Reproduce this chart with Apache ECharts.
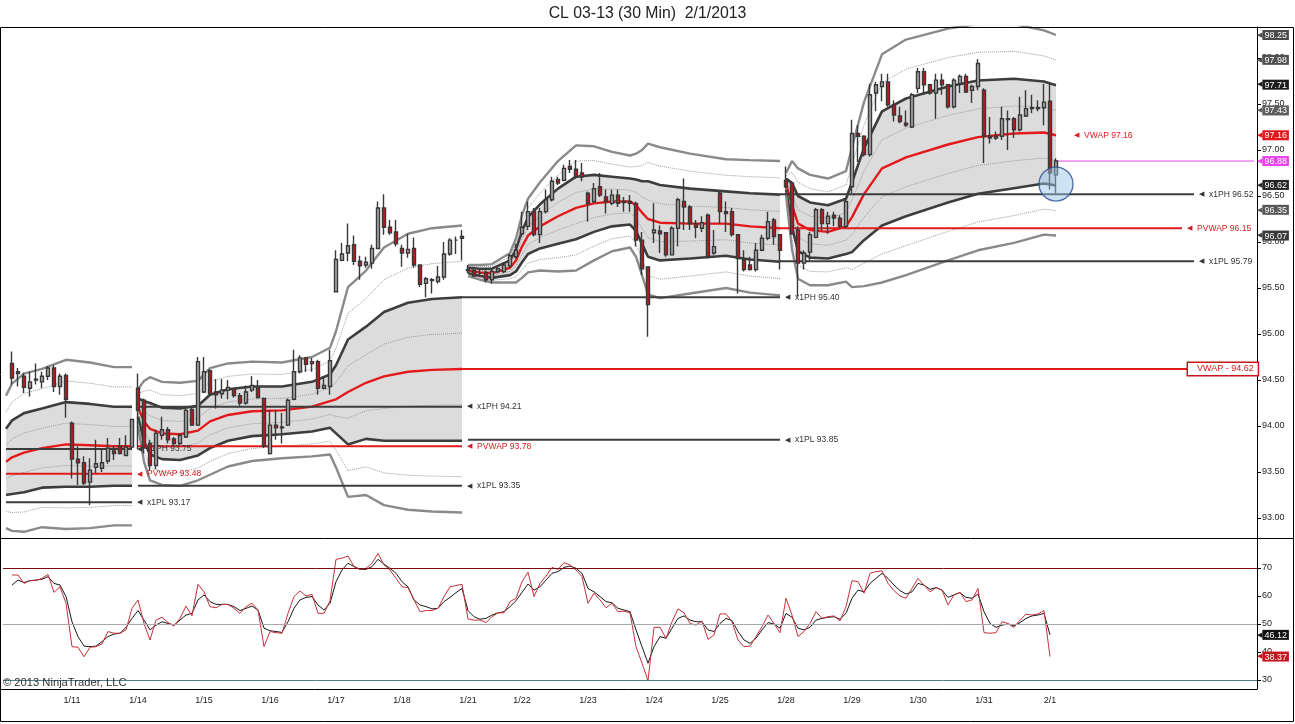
<!DOCTYPE html>
<html><head><meta charset="utf-8">
<script src="https://cdn.jsdelivr.net/npm/echarts@6/dist/echarts.min.js"></script>
<style>html,body{margin:0;padding:0;background:#fff;}#c{width:1295px;height:724px;}</style>
</head><body><div id="c"></div>
<script>
// ---------------- DATA ----------------
const days = ['1/10','1/11','1/14','1/15','1/16','1/17','1/18','1/21','1/22','1/23','1/24','1/25','1/28','1/29','1/30','1/31','2/1'];
const barsPerDay = [10,11,11,11,11,11,11,9,11,11,11,11,11,11,11,11,2];

const opens = [
 94.68,94.57,94.54,94.41,94.50,94.48,94.54,94.63,94.43,94.55,
 94.03,93.64,93.60,93.39,93.55,93.54,93.62,93.73,93.78,93.68,93.77,
 94.41,94.28,93.81,93.57,93.90,93.96,93.86,93.81,93.88,94.18,94.01,
 94.37,94.60,94.37,94.35,94.39,94.40,94.33,94.25,94.39,94.41,94.30,
 93.70,94.01,93.99,94.01,94.29,94.59,94.74,94.68,94.70,94.41,94.43,
 95.46,95.80,95.88,95.97,95.79,95.75,95.77,95.93,96.37,96.16,96.11,
 95.93,95.88,95.93,95.75,95.55,95.59,95.57,95.62,95.87,96.02,96.04,
 95.70,95.69,95.66,95.67,95.59,95.68,95.68,95.74,95.84,
 96.09,96.17,96.33,96.08,96.33,96.46,96.68,96.67,96.82,96.79,96.75,
 96.53,96.44,96.60,96.49,96.42,96.51,96.44,96.44,96.42,96.02,95.73,
 96.10,96.12,96.10,95.86,96.15,96.44,96.38,96.20,96.15,96.29,95.88,
 96.53,96.33,96.33,96.08,95.81,95.75,95.70,95.91,96.04,96.24,96.08,
 96.67,96.64,96.13,95.77,95.89,96.05,96.35,96.20,96.29,96.26,96.17,
 96.60,97.18,97.15,96.95,97.62,97.69,97.74,97.49,97.37,97.29,97.25,
 97.67,97.85,97.71,97.62,97.76,97.71,97.47,97.72,97.80,97.65,97.69,
 97.65,97.15,97.13,97.15,97.34,97.34,97.22,97.37,97.46,97.45,97.46,
 97.53,96.73];
const highs = [
 94.81,94.63,94.58,94.59,94.68,94.59,94.65,94.66,94.57,94.57,
 94.05,93.78,93.67,93.65,93.85,93.76,93.87,93.78,93.87,93.90,94.08,
 94.57,94.30,93.85,93.96,94.10,93.99,93.88,93.92,94.19,94.21,94.75,
 94.75,94.62,94.51,94.51,94.50,94.41,94.36,94.44,94.54,94.50,94.31,
 94.17,94.17,94.14,94.30,94.83,94.77,94.75,94.74,94.72,94.54,94.83,
 95.91,95.99,96.20,96.07,95.85,95.84,95.97,96.44,96.52,96.24,96.24,
 95.97,96.09,96.05,95.75,95.62,95.61,95.74,96.00,96.04,96.06,96.13,
 95.75,95.72,95.70,95.69,95.70,95.74,95.78,95.87,95.98,
 96.33,96.44,96.37,96.37,96.57,96.71,96.71,96.84,96.89,96.89,96.86,
 96.55,96.64,96.75,96.57,96.57,96.57,96.49,96.51,96.44,96.11,95.73,
 96.42,96.18,96.11,96.17,96.48,96.69,96.40,96.24,96.28,96.31,96.13,
 96.55,96.44,96.37,96.08,95.91,95.84,95.99,96.08,96.33,96.26,96.08,
 96.82,96.66,96.17,95.91,96.11,96.37,96.37,96.33,96.33,96.29,96.47,
 97.33,97.27,97.16,97.72,97.74,97.83,97.83,97.54,97.47,97.43,97.62,
 97.89,97.89,97.72,97.83,97.83,97.71,97.78,97.82,97.83,97.71,97.99,
 97.67,97.36,97.20,97.47,97.43,97.36,97.58,97.65,97.60,97.54,97.72,
 97.72,96.91];
const lows = [
 94.45,94.43,94.36,94.32,94.45,94.41,94.50,94.37,94.34,94.09,
 93.43,93.36,93.36,93.14,93.49,93.50,93.59,93.63,93.69,93.67,93.76,
 93.75,93.70,93.52,93.53,93.85,93.81,93.78,93.79,93.87,94.00,94.00,
 94.36,94.34,94.19,94.30,94.29,94.31,94.22,94.23,94.37,94.30,93.76,
 93.69,93.85,93.81,94.00,94.28,94.57,94.59,94.59,94.34,94.40,94.34,
 95.45,95.79,95.79,95.75,95.59,95.72,95.71,95.93,96.08,96.08,95.95,
 95.73,95.83,95.72,95.51,95.40,95.44,95.55,95.59,95.85,95.87,95.80,
 95.66,95.62,95.63,95.56,95.55,95.66,95.66,95.72,95.82,
 96.06,96.13,96.06,95.99,96.31,96.44,96.62,96.66,96.75,96.69,96.66,
 96.22,96.42,96.49,96.31,96.40,96.38,96.33,96.33,95.95,95.64,94.97,
 95.99,95.88,95.84,95.86,95.95,96.13,96.13,96.04,96.11,95.82,95.86,
 96.20,96.11,96.06,95.44,95.68,95.69,95.68,95.90,96.02,95.97,95.70,
 96.58,96.08,95.41,95.70,95.80,96.04,96.13,96.09,96.17,96.15,96.15,
 96.53,96.87,96.93,96.93,97.42,97.53,97.47,97.31,97.29,97.25,97.24,
 97.62,97.60,97.60,97.34,97.60,97.45,97.45,97.62,97.62,97.51,97.65,
 96.86,97.07,97.11,97.11,97.00,97.13,97.20,97.36,97.40,97.42,97.27,
 96.57,96.53];
const closes = [
 94.52,94.59,94.42,94.48,94.51,94.54,94.63,94.43,94.54,94.29,
 93.64,93.60,93.38,93.52,93.59,93.60,93.76,93.70,93.70,93.77,94.07,
 94.17,93.76,93.57,93.92,93.96,93.85,93.81,93.90,94.17,94.01,94.70,
 94.59,94.35,94.34,94.39,94.42,94.33,94.25,94.37,94.44,94.31,93.78,
 94.01,93.98,93.98,94.28,94.59,94.74,94.67,94.70,94.41,94.44,94.71,
 95.81,95.87,95.96,95.79,95.74,95.78,95.93,96.37,96.16,96.10,95.98,
 95.88,95.92,95.75,95.54,95.60,95.58,95.62,95.87,96.02,96.02,96.06,
 95.69,95.63,95.66,95.59,95.68,95.71,95.75,95.85,95.91,
 96.16,96.33,96.08,96.33,96.46,96.66,96.64,96.80,96.79,96.71,96.71,
 96.42,96.58,96.51,96.44,96.51,96.42,96.43,96.42,96.02,95.71,95.32,
 96.13,96.09,95.86,96.15,96.46,96.38,96.20,96.16,96.21,95.84,95.95,
 96.33,96.31,96.08,95.82,95.70,95.70,95.91,96.04,96.22,96.06,95.91,
 96.60,96.09,95.77,95.88,96.08,96.35,96.20,96.28,96.26,96.17,96.44,
 97.18,97.15,96.95,97.60,97.71,97.74,97.49,97.38,97.31,97.27,97.60,
 97.85,97.71,97.62,97.76,97.71,97.47,97.76,97.80,97.63,97.69,97.94,
 97.15,97.13,97.15,97.34,97.33,97.22,97.38,97.45,97.45,97.46,97.52,
 96.75,96.88];

// weekly VWAP (read) and its standard deviation (read), sampled at bar numbers
const bandBarsA = [-1,0,2,5,9,13,17,20];
const bandVwapA = [93.61,93.66,93.71,93.76,93.80,93.79,93.78,93.78];
const bandSdA   = [0.36,0.40,0.43,0.43,0.46,0.45,0.43,0.43];
const bandBarsB = [21,22,23,25,28,31,33,36,40,45,50,53,54,56,59,62,66,70,75];
const bandVwapB = [94.20,94.05,93.97,93.92,93.91,93.95,94.05,94.12,94.16,94.17,94.21,94.27,94.29,94.37,94.47,94.54,94.59,94.61,94.62];
const bandSdB   = [0.10,0.22,0.28,0.28,0.28,0.27,0.29,0.28,0.27,0.26,0.27,0.29,0.37,0.57,0.61,0.70,0.75,0.77,0.78];
const bandBarsC = [76,78,80,83,84,85,86,88,91,94,97,100,103,104,105,106,108,113,119,123,128];
const bandVwapC = [95.69,95.67,95.66,95.72,95.80,95.95,96.07,96.17,96.28,96.37,96.42,96.44,96.44,96.40,96.32,96.25,96.21,96.20,96.20,96.17,96.15];
const bandSdC   = [0.03,0.04,0.05,0.08,0.12,0.17,0.20,0.24,0.30,0.34,0.31,0.27,0.25,0.28,0.34,0.41,0.41,0.38,0.35,0.36,0.365];
const bandBarsD = [129,130,131,133,136,139,140,142,145,149,156,161,167,172,174];
const bandVwapD = [96.63,96.40,96.20,96.13,96.11,96.17,96.27,96.52,96.80,96.92,97.06,97.14,97.18,97.19,97.16];
const bandSdD   = [0.06,0.24,0.30,0.30,0.29,0.30,0.38,0.50,0.62,0.64,0.63,0.615,0.595,0.555,0.545];
const bandLevels = [2,1.5,1,0.5,0,-0.5,-1,-1.5,-2];

// prior-week levels
const levelNames  = ['x1PH','PVWAP','x1PL','x1PH','PVWAP','x1PL','x1PH','x1PL','x1PH','PVWAP','x1PL'];
const levelValues = [93.75,93.48,93.17,94.21,93.78,93.35,95.40,93.85,96.52,96.15,95.79];
const monthVwap = 94.62;
const lastPrice = 96.88;
const circleMark = [174, 96.63];

// oscillator (lower panel)
const oscFast = [
 67.5,67.5,64.5,65.5,65.5,66.3,67.7,61.3,63.3,57.4,
 41.9,41.7,38.3,41.7,41.9,42.9,47.3,46.7,46.7,47.9,
 55.6,58.6,50.2,44.3,51.4,52.4,50.5,49.3,52.0,56.4,
 52.9,64.2,61.5,56.2,55.8,57.0,57.0,55.6,53.8,56.2,
 57.4,55.0,41.9,47.3,46.9,46.7,53.8,59.8,61.8,60.0,
 60.6,53.8,53.8,58.3,73.1,73.5,74.3,70.5,69.5,69.9,
 71.7,75.2,71.1,69.3,66.3,63.3,63.0,58.6,54.4,54.8,
 54.8,55.6,59.8,63.3,63.7,64.2,51.8,51.4,51.4,50.5,
 52.6,54.0,54.0,58.0,59.2,65.1,68.5,59.8,64.5,67.1,
 70.2,69.5,71.9,71.1,69.3,66.9,57.4,61.0,58.6,55.8,
 57.4,54.4,54.6,54.0,41.9,36.0,29.8,48.8,48.8,44.9,
 50.8,55.4,54.0,50.2,49.6,51.1,44.5,46.1,53.6,53.6,
 50.8,44.3,41.9,42.1,45.5,49.0,53.2,50.2,46.9,59.2,
 53.2,45.5,47.3,50.2,54.4,52.0,52.6,52.9,51.1,56.2,
 65.5,65.1,61.0,68.1,68.7,69.0,64.5,61.9,60.0,59.2,
 62.7,66.3,63.9,61.5,63.0,62.1,56.8,60.4,61.3,58.0,
 58.6,62.7,46.9,46.7,46.9,50.8,50.2,48.8,51.4,53.5,
 53.2,53.6,54.8,38.37];
const oscSlow = [
 63.9,65.7,64.8,65.5,65.7,66.0,66.9,64.5,63.9,59.8,
 50.8,45.5,42.1,41.9,42.1,43.7,45.5,46.4,46.7,48.8,
 52.0,54.8,51.4,47.9,49.6,50.8,50.2,49.6,51.4,53.2,
 53.8,58.6,60.4,58.0,57.0,57.0,57.0,56.2,54.8,55.6,
 56.4,55.0,48.5,47.6,47.3,47.0,50.8,55.6,58.6,59.5,
 59.8,56.8,55.0,57.4,65.1,69.3,71.7,70.5,69.5,69.5,
 70.5,73.1,71.4,69.9,68.1,65.1,63.3,58.6,56.8,56.2,
 55.4,55.6,58.0,59.5,61.2,62.7,54.8,52.6,51.7,52.0,
 53.2,54.0,54.4,56.2,58.3,61.3,64.3,62.1,63.3,65.7,
 68.1,68.7,70.2,70.7,69.9,68.1,62.7,61.5,59.8,58.0,
 57.6,55.6,55.0,54.4,47.9,41.9,36.0,41.9,45.5,44.9,
 48.5,52.0,52.9,51.4,50.8,50.8,47.9,47.3,50.2,52.0,
 51.2,47.3,44.3,43.1,44.9,47.9,50.5,50.0,48.5,53.8,
 52.4,48.5,47.9,48.8,51.4,52.0,52.4,52.6,51.7,53.8,
 59.2,62.1,61.5,64.5,66.3,68.1,66.3,63.9,61.9,60.7,
 61.5,64.5,63.9,62.4,63.0,62.1,59.5,60.4,61.2,59.5,
 59.2,60.7,54.4,50.2,48.8,49.6,50.0,49.3,50.5,52.0,
 52.9,53.2,53.8,46.12];
const oscLevels = [70,50,30];

const priceTicks = [93,93.5,94,94.5,95,95.5,96,96.5,97,97.5,98];
const oscTicks = [30,40,50,60,70];
const markerValues = [98.25,97.98,97.71,97.43,97.16,96.88,96.62,96.35,96.07];
const oscMarkerValues = [46.12,38.37];

// ---------------- STYLE / LAYOUT ----------------
const FONT = 'Liberation Sans, Arial, sans-serif';
const markerColors = ['#4a4a4a','#505050','#1c1c1c','#5e5e5e','#e0181c','#e843e8','#262626','#575757','#3a3a3a'];
const oscMarkerColors = ['#111111','#c4161c'];
const levelSpan = [[0,21],[0,21],[0,21],[22,76],[22,76],[22,76],[76,129],[77,129],[129,198],[129,196],[129,198]];
const monthSpan = [76,197];
const lastSpan = [175,208];
const SLOTS = 209;
const RED = '#e3191c', DARK = '#3d3d3d';
const LBL = 8.5;

// categories (slot 0 is an empty lead slot)
const cats = ['lead'];
const dayStart = [];
days.forEach((d, di) => {
  dayStart.push(cats.length);
  for (let i = 0; i < barsPerDay[di]; i++) cats.push(d + ' #' + (i + 1));
});
while (cats.length < SLOTS) cats.push('pad' + cats.length);
const labelSlots = new Set(dayStart.slice(1));
const slotOf = k => k + 1;

const candles = opens.map((o, k) => [slotOf(k), o, closes[k], lows[k], highs[k]]);

function arrowLabel(text, color, dist) {
  return {show: true, distance: dist, formatter: '{a|◀}  ' + text, color: color,
    fontSize: LBL, fontFamily: FONT,
    rich: {a: {color: color, fontSize: 7, fontFamily: 'DejaVu Sans'}}};
}

const series = [];
series.push({
  type: 'candlestick', xAxisIndex: 0, yAxisIndex: 0, z: 5, silent: true,
  data: candles, encode: {x: 0, y: [1, 2, 3, 4]}, barWidth: 4,
  itemStyle: {color: '#a9a9a9', color0: '#c8161e', borderColor: '#383838', borderColor0: '#383838', borderWidth: 1.4}
});

const segs = [
  [bandBarsA, bandVwapA, bandSdA],
  [bandBarsB, bandVwapB, bandSdB],
  [bandBarsC, bandVwapC, bandSdC],
  [bandBarsD, bandVwapD, bandSdD]
];
function bandStyle(m) {
  const a = Math.abs(m);
  if (m === 0) return {color: RED, width: 2.4, type: 'solid'};
  if (a === 2) return {color: '#8a8a8a', width: 2.4, type: 'solid'};
  if (a === 1) return {color: DARK, width: 2.6, type: 'solid'};
  return {color: '#9c9c9c', width: 1, type: 'dotted'};
}
segs.forEach(([bars, vw, sd], si) => {
  const up = bars.map((b, i) => [slotOf(b), vw[i] + sd[i]]);
  const lo = bars.map((b, i) => [slotOf(b), vw[i] - sd[i]]);
  series.push({
    type: 'custom', xAxisIndex: 0, yAxisIndex: 0, z: 1, silent: true, data: [[1, 95]],
    renderItem: (params, api) => {
      const pts = up.map(p => api.coord(p)).concat(lo.slice().reverse().map(p => api.coord(p)));
      return {type: 'polygon', shape: {points: pts}, style: {fill: '#dcdcdc'}};
    }
  });
  bandLevels.forEach(m => {
    const s = {
      type: 'line', xAxisIndex: 0, yAxisIndex: 0, z: 2, silent: true, symbol: 'none',
      data: bars.map((b, i) => [slotOf(b), vw[i] + m * sd[i]]),
      lineStyle: bandStyle(m)
    };
    if (m === 0 && si === 3) {
      s.endLabel = arrowLabel('VWAP ' + vw[vw.length - 1].toFixed(2), RED, 18);
    }
    series.push(s);
  });
});

levelNames.forEach((nm, i) => {
  const red = nm === 'PVWAP';
  series.push({
    type: 'line', xAxisIndex: 0, yAxisIndex: 0, z: 3, silent: true, symbol: 'none',
    data: [[levelSpan[i][0], levelValues[i]], [levelSpan[i][1], levelValues[i]]],
    lineStyle: {color: red ? RED : DARK, width: 2},
    endLabel: arrowLabel(nm + ' ' + levelValues[i].toFixed(2), red ? '#d7191c' : '#333', 5)
  });
});
series.push({
  type: 'line', xAxisIndex: 0, yAxisIndex: 0, z: 3, silent: true, symbol: 'none',
  data: [[monthSpan[0], monthVwap], [monthSpan[1], monthVwap]],
  lineStyle: {color: RED, width: 2},
  endLabel: {show: true, distance: 0, formatter: 'VWAP - ' + monthVwap.toFixed(2), color: '#d7191c',
    fontSize: 9, fontFamily: FONT, backgroundColor: '#fff', borderColor: '#c8161e', borderWidth: 1.5,
    padding: [2, 4, 1, 9]}
});
series.push({
  type: 'line', xAxisIndex: 0, yAxisIndex: 0, z: 3, silent: true, symbol: 'none',
  data: [[lastSpan[0], lastPrice], [lastSpan[1], lastPrice]],
  lineStyle: {color: '#e04ae0', width: 1}
});
series.push({
  type: 'scatter', xAxisIndex: 0, yAxisIndex: 0, z: 6, silent: true,
  data: [[slotOf(circleMark[0]), circleMark[1]]], symbolSize: 34,
  itemStyle: {color: 'rgba(150,195,235,0.6)', borderColor: '#234a8c', borderWidth: 1.3}
});

// lower panel
series.push({
  type: 'line', xAxisIndex: 1, yAxisIndex: 2, z: 2, silent: true, symbol: 'none',
  data: oscSlow.map((v, k) => [slotOf(k), v]), lineStyle: {color: '#1a1a1a', width: 1},
  markLine: {silent: true, symbol: ['none', 'none'], label: {show: false},
    data: oscLevels.map((v, i) => ({yAxis: v, lineStyle: {type: 'solid', width: 1,
      color: ['#7a0c10', '#a8a8a8', '#4f7f8e'][i]}}))}
});
series.push({
  type: 'line', xAxisIndex: 1, yAxisIndex: 2, z: 3, silent: true, symbol: 'none',
  data: oscFast.map((v, k) => [slotOf(k), v]), lineStyle: {color: '#c8303a', width: 1}
});

function markerAxis(grid, min, max, vals, colors) {
  const rich = {};
  vals.forEach((v, i) => {
    rich['a' + i] = {color: colors[i], fontSize: 7, fontFamily: 'DejaVu Sans'};
    rich['b' + i] = {backgroundColor: colors[i], color: '#fff', fontSize: 9, fontFamily: FONT, padding: [1, 2, 0, 2], lineHeight: 11};
  });
  return {
    type: 'value', gridIndex: grid, position: 'right', min: min, max: max,
    axisLine: {show: false}, axisTick: {show: false}, splitLine: {show: false},
    axisLabel: {customValues: vals, margin: 0, rich: rich,
      formatter: v => { const i = vals.findIndex(m => Math.abs(m - v) < 1e-6); return '{a' + i + '|◀}{b' + i + '|' + v.toFixed(2) + '}'; }}
  };
}
function tickAxis(grid, min, max, vals, dec) {
  return {
    type: 'value', gridIndex: grid, position: 'right', min: min, max: max,
    axisLine: {show: true, lineStyle: {color: '#000', width: 1}},
    axisTick: {show: true, customValues: vals, length: 4, lineStyle: {color: '#000'}},
    splitLine: {show: false},
    axisLabel: {customValues: vals, margin: 5, fontSize: 9, color: '#222', fontFamily: FONT,
      formatter: v => v.toFixed(dec)}
  };
}
const pMin = 93 - 20 / 92, pMax = 93 + 491 / 92;
const oMin = 30 - 9 / 2.8, oMax = 30 + 141 / 2.8;

const option = {
  animation: false,
  backgroundColor: '#fff',
  textStyle: {fontFamily: FONT},
  title: {text: 'CL 03-13 (30 Min)  2/1/2013', left: 'center', top: 1,
    textStyle: {fontSize: 15.8, fontWeight: 'normal', color: '#222', fontFamily: FONT}},
  grid: [
    {left: 3, right: 38, top: 27, height: 511},
    {left: 3, right: 38, top: 539, height: 150}
  ],
  xAxis: [
    {type: 'category', gridIndex: 0, data: cats, boundaryGap: true,
      axisLine: {show: false}, axisTick: {show: false}, axisLabel: {show: false}, splitLine: {show: false}},
    {type: 'category', gridIndex: 1, data: cats, boundaryGap: true,
      axisLine: {show: false}, axisTick: {show: false}, splitLine: {show: false},
      axisLabel: {show: true, margin: 7, fontSize: 9, color: '#222', fontFamily: FONT,
        interval: (idx) => labelSlots.has(idx), formatter: v => v.split(' ')[0]}}
  ],
  yAxis: [
    tickAxis(0, pMin, pMax, priceTicks, 2),
    markerAxis(0, pMin, pMax, markerValues, markerColors),
    tickAxis(1, oMin, oMax, oscTicks, 0),
    markerAxis(1, oMin, oMax, oscMarkerValues, oscMarkerColors)
  ],
  series: series,
  graphic: [
    {type: 'rect', silent: true, z: 100, shape: {x: 0.5, y: 27.5, width: 1293, height: 694}, style: {fill: 'none', stroke: '#000', lineWidth: 1}},
    {type: 'line', silent: true, z: 100, shape: {x1: 0, y1: 538.5, x2: 1294, y2: 538.5}, style: {stroke: '#000', lineWidth: 1}},
    {type: 'line', silent: true, z: 100, shape: {x1: 0, y1: 689.5, x2: 1257.5, y2: 689.5}, style: {stroke: '#000', lineWidth: 1}},
    {type: 'text', silent: true, z: 100, left: 3, top: 677, style: {text: '© 2013 NinjaTrader, LLC', fill: '#333', font: '11.2px ' + FONT}}
  ]
};
const chart = echarts.init(document.getElementById('c'), null, {renderer: 'canvas'});
chart.setOption(option);
</script></body></html>
